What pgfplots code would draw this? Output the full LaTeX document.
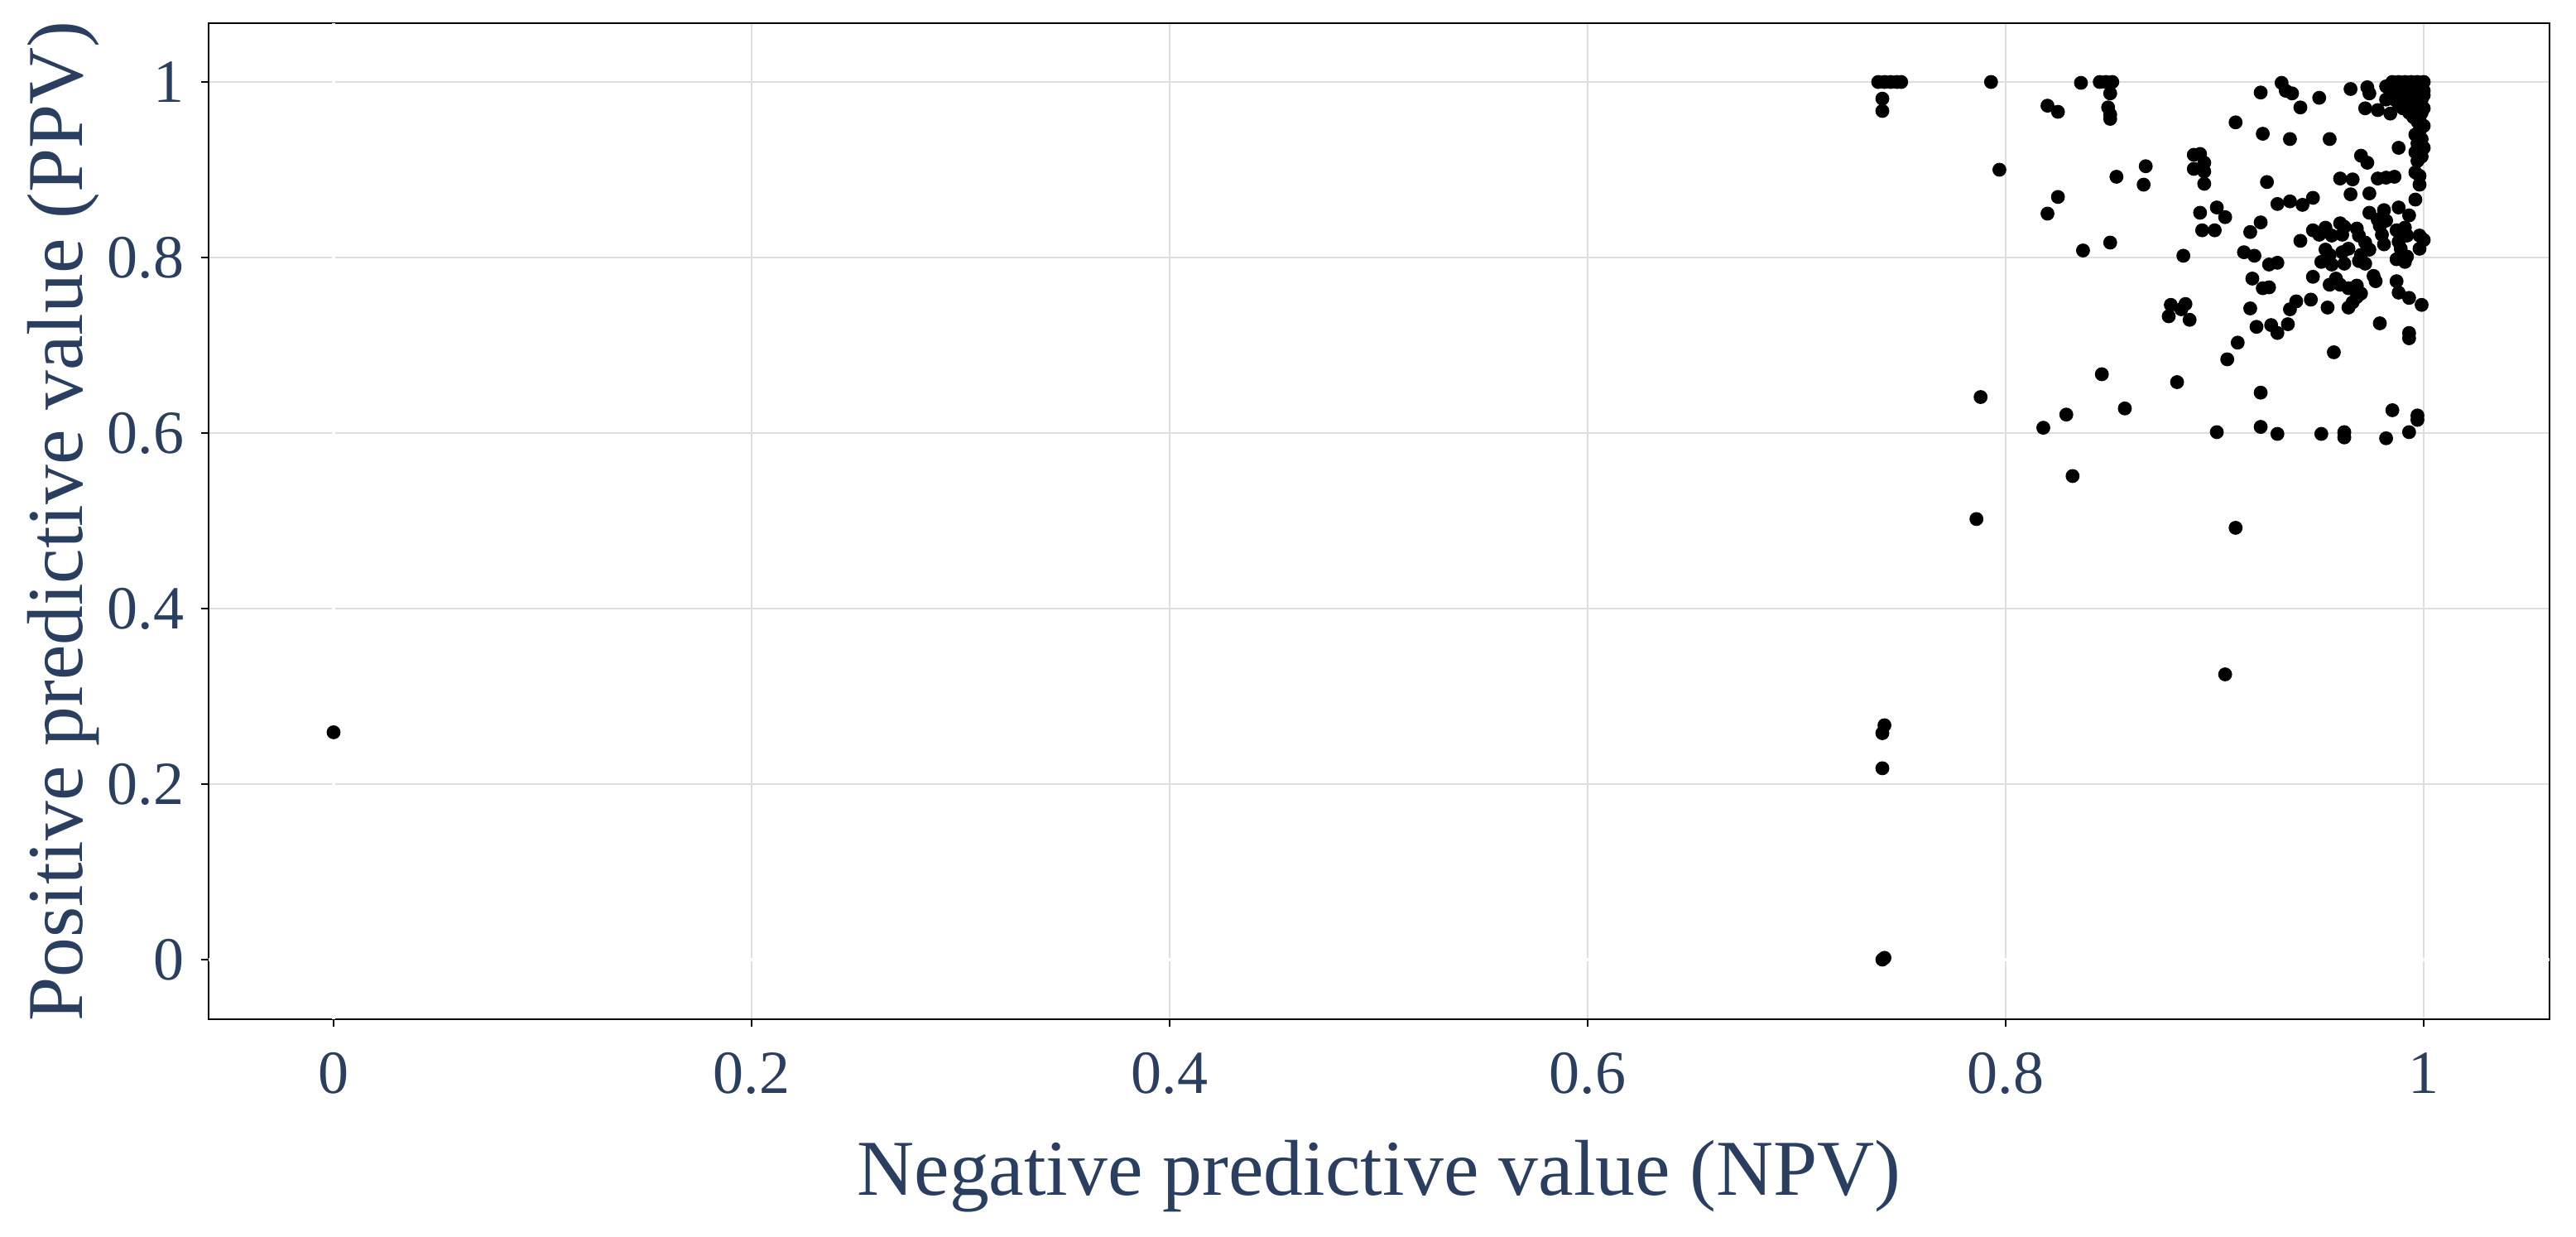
\documentclass[border=0pt]{standalone}
\usepackage{fontspec}
\setmainfont{Liberation Serif}
\usepackage{pgfplots}
\pgfplotsset{compat=1.18}
\definecolor{txt}{HTML}{2A3F5F}
\definecolor{gridc}{HTML}{DEDEDE}

\begin{document}
\begin{tikzpicture}
\begin{axis}[
  name=ax,
  scale only axis,
  width=707pt, height=300.75pt,
  xmin=-0.0598, xmax=1.0602,
  ymin=-0.068, ymax=1.067,
  axis line style={black, line width=0.7pt},
  tick align=outside,
  major tick length=2.25pt,
  tick style={black, line width=0.7pt},
  xtick pos=bottom, ytick pos=left,
  xtick={0.2,0.4,0.6,0.8,1},
  ytick={0.2,0.4,0.6,0.8,1},
  extra x ticks={0}, extra y ticks={0},
  extra tick style={grid style={white, line width=1pt}},
  grid=major,
  grid style={gridc, line width=0.5pt},
  /pgf/number format/assume math mode=true,
  tick label style={color=txt, font=\fontsize{18.5}{20}\selectfont},
  x tick label style={anchor=base, yshift=-20pt},
  y tick label style={xshift=-1.7pt},
  label style={color=txt, font=\fontsize{23.9}{26}\selectfont},
  xlabel={Negative predictive value (NPV)},
  ylabel={Positive predictive value (PPV)},
  xlabel style={at={([yshift=-53pt]axis description cs:0.5,0)}, anchor=base},
  ylabel style={at={([xshift=-38pt]axis description cs:0,0.5)}, anchor=base},
  clip=false,
]
\addplot[only marks, mark=*, mark size=1.9pt, black] table {
x y
0.000 0.259
0.741 0.000
0.742 0.002
0.741 0.218
0.741 0.258
0.742 0.267
0.786 0.502
0.910 0.492
0.905 0.325
0.739 1.000
0.742 1.000
0.745 1.000
0.748 1.000
0.750 1.000
0.741 0.981
0.741 0.967
0.793 1.000
0.797 0.900
0.836 0.999
0.845 1.000
0.848 1.000
0.851 1.000
0.850 0.987
0.849 0.971
0.850 0.963
0.850 0.958
0.820 0.973
0.825 0.966
0.853 0.892
0.867 0.904
0.866 0.883
0.825 0.869
0.820 0.850
0.850 0.817
0.837 0.808
0.879 0.746
0.886 0.747
0.878 0.733
0.884 0.741
0.888 0.729
0.788 0.641
0.846 0.667
0.829 0.621
0.818 0.606
0.857 0.628
0.832 0.551
0.932 0.999
0.934 0.990
0.937 0.987
0.922 0.988
0.941 0.971
0.950 0.982
0.965 0.992
0.973 0.994
0.974 0.987
0.972 0.970
0.978 0.968
0.984 0.964
0.982 0.980
0.910 0.954
0.923 0.941
0.936 0.935
0.955 0.935
0.988 0.925
0.970 0.916
0.973 0.908
0.890 0.917
0.893 0.918
0.890 0.901
0.895 0.908
0.895 0.898
0.895 0.884
0.925 0.886
0.960 0.890
0.966 0.889
0.978 0.890
0.982 0.891
0.986 0.892
0.996 0.897
0.998 0.893
0.998 0.883
0.893 0.851
0.901 0.857
0.905 0.846
0.894 0.831
0.900 0.831
0.917 0.829
0.922 0.840
0.885 0.802
0.914 0.806
0.919 0.802
0.918 0.776
0.923 0.765
0.930 0.861
0.936 0.864
0.942 0.860
0.947 0.868
0.965 0.872
0.974 0.873
0.996 0.866
0.974 0.851
0.981 0.854
0.988 0.857
0.993 0.848
0.978 0.843
0.982 0.842
0.979 0.836
0.947 0.831
0.953 0.834
0.950 0.826
0.956 0.825
0.960 0.839
0.962 0.835
0.961 0.826
0.968 0.833
0.969 0.825
0.941 0.819
0.980 0.826
0.981 0.815
0.987 0.831
0.991 0.834
0.992 0.825
0.988 0.818
0.989 0.810
0.998 0.825
1.000 0.820
0.998 0.810
0.972 0.817
0.974 0.809
0.970 0.803
0.969 0.796
0.972 0.793
0.953 0.809
0.955 0.803
0.951 0.795
0.956 0.792
0.961 0.806
0.964 0.810
0.962 0.793
0.926 0.792
0.930 0.794
0.987 0.798
0.991 0.795
0.992 0.801
0.947 0.778
0.958 0.776
0.955 0.769
0.960 0.769
0.964 0.765
0.976 0.779
0.977 0.773
0.968 0.768
0.970 0.759
0.968 0.755
0.966 0.749
0.964 0.743
0.987 0.773
0.988 0.760
0.993 0.754
0.999 0.746
0.939 0.750
0.946 0.752
0.936 0.741
0.954 0.743
0.926 0.766
0.917 0.742
0.920 0.721
0.927 0.723
0.930 0.714
0.935 0.724
0.911 0.703
0.906 0.684
0.882 0.658
0.922 0.646
0.979 0.725
0.993 0.714
0.993 0.708
0.957 0.692
0.985 0.626
0.997 0.620
0.997 0.615
0.993 0.601
0.982 0.594
0.901 0.601
0.922 0.607
0.930 0.599
0.951 0.599
0.962 0.601
0.962 0.595
0.985 1.000
0.988 1.000
0.991 1.000
0.994 1.000
0.997 1.000
1.000 1.000
0.982 0.995
0.986 0.995
0.990 0.995
0.993 0.995
0.996 0.995
0.999 0.995
0.984 0.990
0.988 0.990
0.992 0.990
0.995 0.990
0.998 0.990
1.000 0.990
0.987 0.985
0.990 0.985
0.994 0.985
0.997 0.985
1.000 0.985
0.986 0.980
0.989 0.980
0.993 0.980
0.996 0.980
0.999 0.980
0.988 0.975
0.992 0.975
0.995 0.975
0.998 0.975
0.990 0.970
0.994 0.970
0.997 0.970
1.000 0.970
0.993 0.965
0.996 0.965
0.999 0.965
0.995 0.960
0.998 0.960
0.997 0.955
1.000 0.950
0.998 0.945
0.996 0.940
0.999 0.935
0.997 0.930
1.000 0.925
0.996 0.920
0.999 0.915
0.997 0.910
};
\end{axis}
% fix the page to the reference margins around the axis box
\pgfresetboundingbox
\path ([shift={(-63pt,-65.5pt)}]ax.south west) rectangle ([shift={(8pt,7pt)}]ax.north east);
\end{tikzpicture}
\end{document}
